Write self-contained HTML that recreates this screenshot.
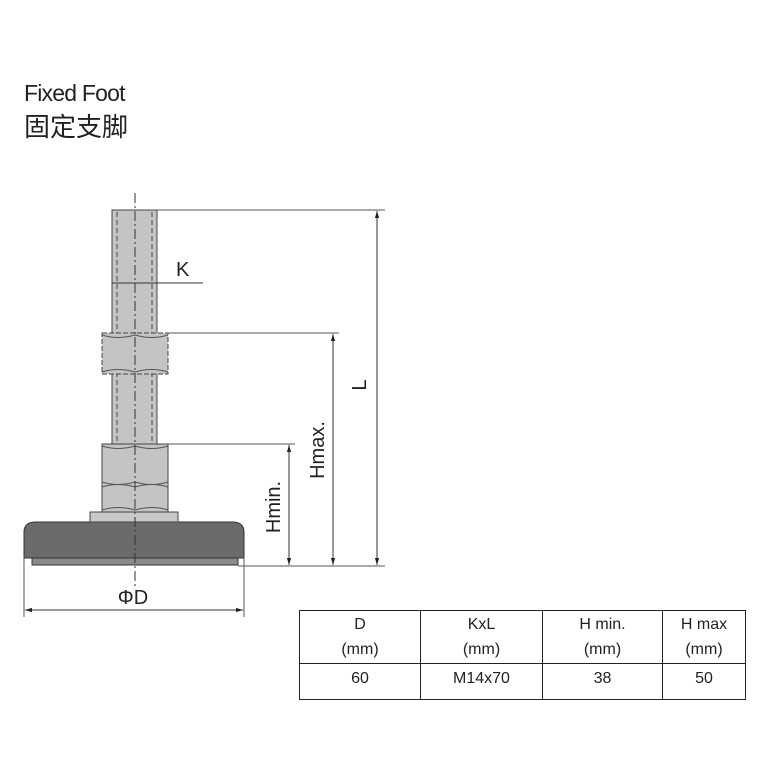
<!DOCTYPE html>
<html><head><meta charset="utf-8"><style>
body{margin:0;background:#fff;width:768px;height:768px;overflow:hidden;position:relative;font-family:"Liberation Sans","Noto Sans CJK SC",sans-serif}
.t{position:absolute;color:#222}
table{position:absolute;left:299px;top:610px;width:447px;height:90px;border-collapse:collapse;font-family:"Liberation Sans",sans-serif;font-size:16px;color:#222}
td{border:1.5px solid #222;text-align:center;line-height:25px;padding:0}
</style></head><body>
<div class="t" style="left:24px;top:80px;font-size:23px;letter-spacing:-0.8px">Fixed Foot</div>
<div class="t" style="left:24px;top:111px;font-size:26px;font-family:'Noto Sans CJK SC',sans-serif;line-height:30px">固定支脚</div>
<svg width="768" height="768" style="position:absolute;left:0;top:0" font-family="Liberation Sans, sans-serif">
<defs><marker id="a" viewBox="0 0 10 10" refX="10" refY="5" markerWidth="7" markerHeight="7" orient="auto-start-reverse"><path d="M0,2 L10,5 L0,8z" fill="#222"/></marker></defs>
<rect x="32" y="556" width="206" height="9" fill="#8a8a8a" stroke="#333"/>
<path d="M24,558 L24,532 Q24,522 36,522 L232,522 Q244,522 244,532 L244,558 Z" fill="#6b6b6b" stroke="#333"/>
<rect x="90" y="512" width="88" height="10" fill="#c8c8c8" stroke="#444"/>
<rect x="112" y="210" width="45" height="302" fill="#c4c4c4" stroke="#444"/>
<line x1="117" y1="212" x2="117" y2="444" stroke="#444" stroke-dasharray="5,3"/>
<line x1="152" y1="212" x2="152" y2="444" stroke="#444" stroke-dasharray="5,3"/>
<rect x="102" y="333" width="66" height="41" fill="#c4c4c4" stroke="#444" stroke-dasharray="5,2"/>
<path d="M102,335 Q118,340 135,335 Q152,340 168,335 M102,372 Q118,367 135,372 Q152,367 168,372" fill="none" stroke="#555"/>
<rect x="102" y="444" width="66" height="68" fill="#c4c4c4" stroke="#444"/>
<path d="M102,446 Q118,451 135,446 Q152,451 168,446 M102,482 Q118,487 135,482 Q152,487 168,482 M102,487 Q118,482 135,487 Q152,482 168,487 M102,510 Q118,505 135,510 Q152,505 168,510" fill="none" stroke="#555"/>
<line x1="135" y1="193" x2="135" y2="588" stroke="#333" stroke-dasharray="10,3,2,3"/>
<line x1="112" y1="283" x2="203" y2="283" stroke="#333"/>
<text x="176" y="276" font-size="20" fill="#222">K</text>
<g stroke="#555" stroke-width="1">
<line x1="157" y1="210" x2="385" y2="210"/>
<line x1="168" y1="333" x2="339" y2="333"/>
<line x1="168" y1="444" x2="295" y2="444"/>
<line x1="238" y1="566" x2="385" y2="566"/>
<line x1="24" y1="558" x2="24" y2="617"/>
<line x1="244" y1="558" x2="244" y2="617"/>
</g>
<g stroke="#333" stroke-width="1" marker-start="url(#a)" marker-end="url(#a)">
<line x1="377" y1="211" x2="377" y2="565"/>
<line x1="333" y1="334" x2="333" y2="565"/>
<line x1="289" y1="445" x2="289" y2="565"/>
<line x1="25" y1="610" x2="243" y2="610"/>
</g>
<text x="133" y="604" font-size="20" fill="#222" text-anchor="middle">ΦD</text>
<text transform="translate(366,385) rotate(-90)" font-size="20" fill="#222" text-anchor="middle">L</text>
<text transform="translate(324,450) rotate(-90)" font-size="20" fill="#222" text-anchor="middle">Hmax.</text>
<text transform="translate(280,507) rotate(-90)" font-size="20" fill="#222" text-anchor="middle">Hmin.</text>
</svg>
<table>
<tr style="height:53px"><td style="width:120px">D<br>(mm)</td><td style="width:121px">KxL<br>(mm)</td><td style="width:119px">H min.<br>(mm)</td><td>H max<br>(mm)</td></tr>
<tr><td style="vertical-align:top;padding-top:2px">60</td><td style="vertical-align:top;padding-top:2px">M14x70</td><td style="vertical-align:top;padding-top:2px">38</td><td style="vertical-align:top;padding-top:2px">50</td></tr>
</table>
</body></html>
